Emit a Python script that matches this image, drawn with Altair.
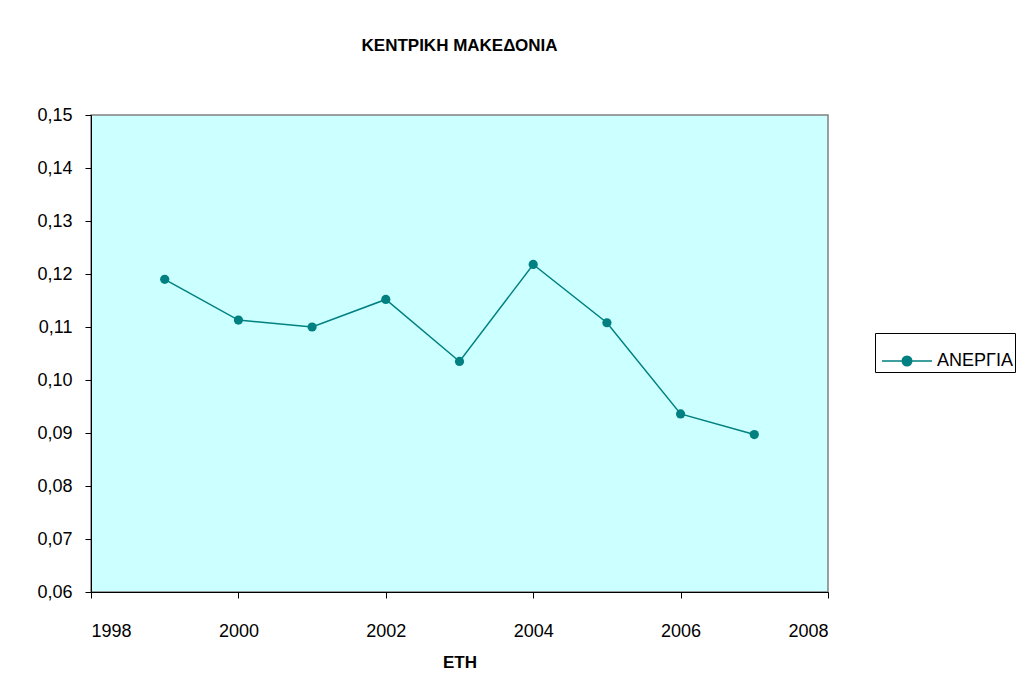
import altair as alt
import pandas as pd

years = [1999, 2000, 2001, 2002, 2003, 2004, 2005, 2006, 2007]
unemployment = [0.1190, 0.1113, 0.1100, 0.1152, 0.1035, 0.1218, 0.1108, 0.0936, 0.0897]
series_name = "ΑΝΕΡΓΙΑ"
x_ticks = [1998, 2000, 2002, 2004, 2006, 2008]
y_ticks = [0.06, 0.07, 0.08, 0.09, 0.10, 0.11, 0.12, 0.13, 0.14, 0.15]

df = pd.DataFrame({"year": years, "value": unemployment, "series": [series_name] * len(years)})

FONT = "Liberation Sans"
TEAL = "#008080"

line = alt.Chart(df).mark_line(
    color=TEAL, strokeWidth=1.5,
    point=alt.OverlayMarkDef(filled=True, size=85, color=TEAL, opacity=1),
).encode(
    x=alt.X("year:Q",
            scale=alt.Scale(domain=[1998, 2008], nice=False, zero=False),
            axis=alt.Axis(values=x_ticks, format="d", title="ΕΤΗ", grid=False,
                          tickSize=6, labelPadding=24, titlePadding=14,
                          labelFontSize=18, titleFontSize=17, titleFontWeight="bold",
                          domainColor="black", tickColor="black", labelColor="black",
                          titleColor="black", labelFont=FONT, titleFont=FONT)),
    y=alt.Y("value:Q",
            scale=alt.Scale(domain=[0.06, 0.15], nice=False, zero=False),
            axis=alt.Axis(values=y_ticks, title=None, grid=False,
                          labelExpr="replace(format(datum.value, '.2f'), '.', ',')",
                          tickSize=6, labelPadding=13, labelFontSize=18,
                          domainColor="black", tickColor="black", labelColor="black",
                          labelFont=FONT)),
    color=alt.Color("series:N", scale=alt.Scale(range=[TEAL]),
                    legend=alt.Legend(
                        title=None, orient="none", legendX=784, legendY=218,
                        symbolType="M-1,0L1,0M-0.19,0A0.19,0.19,0,1,1,0.19,0A0.19,0.19,0,1,1,-0.19,0Z",
                        symbolSize=2500, symbolStrokeWidth=1.5,
                        symbolFillColor=TEAL, symbolStrokeColor=TEAL,
                        labelFontSize=18, labelFont=FONT, labelColor="black",
                        labelOffset=4, padding=2, symbolOffset=4,
                        strokeColor="black", fillColor="white")),
)

chart = line.properties(
    width=737, height=477,
    title=alt.TitleParams("ΚΕΝΤΡΙΚΗ ΜΑΚΕΔΟΝΙΑ", font=FONT, fontSize=17, fontWeight="bold",
                          color="black", anchor="middle", offset=51),
    autosize=alt.AutoSizeParams(type="none"),
    padding={"left": 83, "top": 107, "right": 199, "bottom": 80},
).configure(
    background="white",
    view=alt.ViewConfig(fill="#CCFFFF", stroke="#808080", strokeWidth=1.5),
)

chart.save("out.html", embed_options={"renderer": "svg", "actions": False})
